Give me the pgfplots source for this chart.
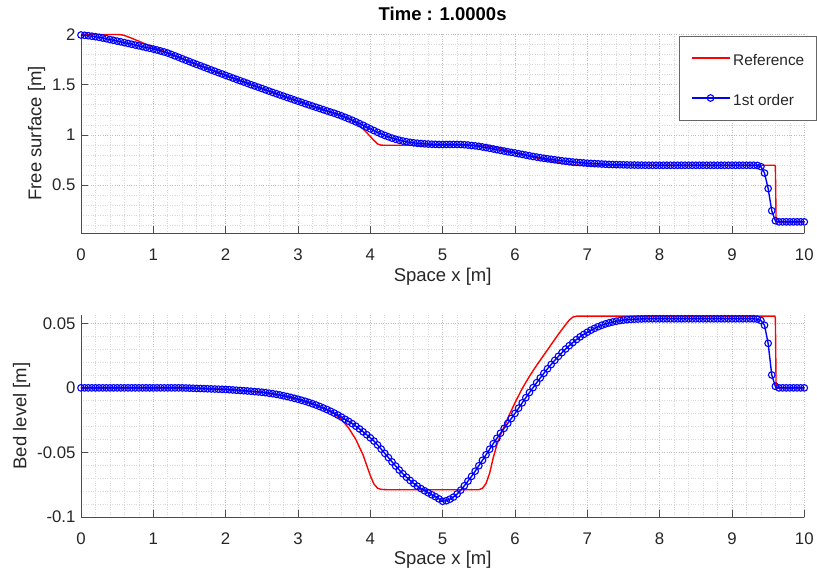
\documentclass[border=0pt]{standalone}
\usepackage{fontspec}
\setmainfont{Liberation Sans}
\usepackage{pgfplots}
\pgfplotsset{compat=1.18}
\definecolor{axgray}{RGB}{38,38,38}
\definecolor{mred}{RGB}{255,0,0}
\definecolor{mblue}{RGB}{0,0,255}

\pgfplotstableread{
x y
0.00 1.995
0.05 1.992
0.10 1.988
0.15 1.983
0.20 1.978
0.25 1.972
0.30 1.965
0.35 1.958
0.40 1.950
0.45 1.942
0.50 1.934
0.55 1.927
0.60 1.919
0.65 1.911
0.70 1.903
0.75 1.895
0.80 1.887
0.85 1.879
0.90 1.871
0.95 1.863
1.00 1.855
1.05 1.846
1.10 1.836
1.15 1.826
1.20 1.815
1.25 1.801
1.30 1.787
1.35 1.773
1.40 1.758
1.45 1.744
1.50 1.730
1.55 1.716
1.60 1.702
1.65 1.689
1.70 1.675
1.75 1.661
1.80 1.647
1.85 1.634
1.90 1.620
1.95 1.607
2.00 1.593
2.05 1.580
2.10 1.566
2.15 1.553
2.20 1.540
2.25 1.527
2.30 1.514
2.35 1.500
2.40 1.488
2.45 1.475
2.50 1.462
2.55 1.449
2.60 1.436
2.65 1.423
2.70 1.411
2.75 1.398
2.80 1.386
2.85 1.373
2.90 1.361
2.95 1.348
3.00 1.336
3.05 1.324
3.10 1.311
3.15 1.299
3.20 1.287
3.25 1.275
3.30 1.263
3.35 1.251
3.40 1.239
3.45 1.227
3.50 1.216
3.55 1.203
3.60 1.190
3.65 1.176
3.70 1.161
3.75 1.146
3.80 1.130
3.85 1.113
3.90 1.096
3.95 1.078
4.00 1.060
4.05 1.043
4.10 1.026
4.15 1.010
4.20 0.995
4.25 0.981
4.30 0.968
4.35 0.957
4.40 0.947
4.45 0.939
4.50 0.932
4.55 0.926
4.60 0.921
4.65 0.917
4.70 0.914
4.75 0.911
4.80 0.909
4.85 0.907
4.90 0.906
4.95 0.905
5.00 0.905
5.05 0.905
5.10 0.905
5.15 0.905
5.20 0.905
5.25 0.904
5.30 0.902
5.35 0.899
5.40 0.895
5.45 0.891
5.50 0.886
5.55 0.880
5.60 0.874
5.65 0.867
5.70 0.860
5.75 0.853
5.80 0.846
5.85 0.839
5.90 0.832
5.95 0.826
6.00 0.820
6.05 0.813
6.10 0.806
6.15 0.799
6.20 0.792
6.25 0.785
6.30 0.779
6.35 0.773
6.40 0.767
6.45 0.762
6.50 0.757
6.55 0.752
6.60 0.747
6.65 0.742
6.70 0.738
6.75 0.734
6.80 0.730
6.85 0.727
6.90 0.724
6.95 0.721
7.00 0.718
7.05 0.716
7.10 0.714
7.15 0.712
7.20 0.710
7.25 0.708
7.30 0.706
7.35 0.705
7.40 0.704
7.45 0.703
7.50 0.702
7.55 0.701
7.60 0.700
7.65 0.700
7.70 0.699
7.75 0.699
7.80 0.698
7.85 0.698
7.90 0.698
7.95 0.698
8.00 0.698
8.05 0.698
8.10 0.698
8.15 0.698
8.20 0.698
8.25 0.698
8.30 0.698
8.35 0.698
8.40 0.698
8.45 0.698
8.50 0.698
8.55 0.698
8.60 0.698
8.65 0.698
8.70 0.698
8.75 0.698
8.80 0.698
8.85 0.698
8.90 0.698
8.95 0.698
9.00 0.698
9.05 0.698
9.10 0.698
9.15 0.698
9.20 0.698
9.25 0.698
9.30 0.698
9.35 0.696
9.40 0.684
9.45 0.620
9.50 0.466
9.55 0.245
9.60 0.145
9.65 0.134
9.70 0.134
9.75 0.134
9.80 0.134
9.85 0.134
9.90 0.134
9.95 0.134
10.00 0.134
}\surfblue

\pgfplotstableread{
x y
0.00 2.000
0.50 2.000
0.55 1.998
0.60 1.991
0.70 1.963
0.80 1.933
1.00 1.873
1.25 1.801
1.50 1.730
1.75 1.661
2.00 1.593
2.25 1.527
2.50 1.462
2.75 1.398
3.00 1.336
3.25 1.275
3.50 1.216
3.60 1.192
3.70 1.163
3.80 1.120
3.90 1.060
4.00 0.985
4.05 0.945
4.10 0.910
4.15 0.898
4.20 0.897
5.50 0.897
5.60 0.893
5.70 0.880
5.80 0.862
6.00 0.825
6.20 0.789
6.40 0.755
6.60 0.724
6.70 0.710
6.80 0.700
6.90 0.698
9.59 0.698
9.60 0.690
9.61 0.140
9.62 0.134
10.00 0.134
}\surfred

\pgfplotstableread{
x y
0.00 0
0.05 0
0.10 0
0.15 0
0.20 0
0.25 0
0.30 0
0.35 0
0.40 0
0.45 0
0.50 0
0.55 0
0.60 0
0.65 0
0.70 0
0.75 0
0.80 0
0.85 0
0.90 0
0.95 0
1.00 0
1.05 0
1.10 0
1.15 0
1.20 0
1.25 0
1.30 0
1.35 0
1.40 0
1.45 -0.0001
1.50 -0.0002
1.55 -0.0003
1.60 -0.0004
1.65 -0.0005
1.70 -0.0006
1.75 -0.0007
1.80 -0.0008
1.85 -0.0009
1.90 -0.0010
1.95 -0.0011
2.00 -0.0012
2.05 -0.0014
2.10 -0.0016
2.15 -0.0018
2.20 -0.0020
2.25 -0.0022
2.30 -0.0024
2.35 -0.0026
2.40 -0.0029
2.45 -0.0031
2.50 -0.0034
2.55 -0.0037
2.60 -0.0041
2.65 -0.0045
2.70 -0.0050
2.75 -0.0055
2.80 -0.0061
2.85 -0.0067
2.90 -0.0074
2.95 -0.0081
3.00 -0.0088
3.05 -0.0096
3.10 -0.0104
3.15 -0.0113
3.20 -0.0123
3.25 -0.0133
3.30 -0.0144
3.35 -0.0156
3.40 -0.0168
3.45 -0.0181
3.50 -0.0195
3.55 -0.0210
3.60 -0.0226
3.65 -0.0243
3.70 -0.0259
3.75 -0.0277
3.80 -0.0297
3.85 -0.0318
3.90 -0.0340
3.95 -0.0363
4.00 -0.0387
4.05 -0.0412
4.10 -0.0442
4.15 -0.0474
4.20 -0.0507
4.25 -0.0540
4.30 -0.0573
4.35 -0.0605
4.40 -0.0636
4.45 -0.0665
4.50 -0.0692
4.55 -0.0717
4.60 -0.0740
4.65 -0.0761
4.70 -0.0780
4.75 -0.0797
4.80 -0.0813
4.85 -0.0828
4.90 -0.0843
4.95 -0.0860
5.00 -0.0878
5.05 -0.0874
5.10 -0.0862
5.15 -0.0846
5.20 -0.0822
5.25 -0.0792
5.30 -0.0758
5.35 -0.0722
5.40 -0.0685
5.45 -0.0645
5.50 -0.0603
5.55 -0.0561
5.60 -0.0518
5.65 -0.0475
5.70 -0.0432
5.75 -0.0390
5.80 -0.0351
5.85 -0.0313
5.90 -0.0275
5.95 -0.0237
6.00 -0.0198
6.05 -0.0157
6.10 -0.0116
6.15 -0.0076
6.20 -0.0036
6.25 0.0002
6.30 0.0040
6.35 0.0077
6.40 0.0113
6.45 0.0148
6.50 0.0181
6.55 0.0213
6.60 0.0244
6.65 0.0273
6.70 0.0301
6.75 0.0327
6.80 0.0351
6.85 0.0374
6.90 0.0395
6.95 0.0414
7.00 0.0431
7.05 0.0447
7.10 0.0461
7.15 0.0474
7.20 0.0485
7.25 0.0495
7.30 0.0503
7.35 0.0510
7.40 0.0516
7.45 0.0521
7.50 0.0525
7.55 0.0528
7.60 0.0530
7.65 0.0532
7.70 0.0533
7.75 0.0534
7.80 0.0535
7.85 0.0535
7.90 0.0535
7.95 0.0535
8.00 0.0535
8.05 0.0535
8.10 0.0535
8.15 0.0535
8.20 0.0535
8.25 0.0535
8.30 0.0535
8.35 0.0535
8.40 0.0535
8.45 0.0535
8.50 0.0535
8.55 0.0535
8.60 0.0535
8.65 0.0535
8.70 0.0535
8.75 0.0535
8.80 0.0535
8.85 0.0535
8.90 0.0535
8.95 0.0535
9.00 0.0535
9.05 0.0535
9.10 0.0535
9.15 0.0535
9.20 0.0535
9.25 0.0535
9.30 0.0535
9.35 0.0532
9.40 0.0522
9.45 0.0485
9.50 0.0345
9.55 0.0100
9.60 0.0012
9.65 0
9.70 0
9.75 0
9.80 0
9.85 0
9.90 0
9.95 0
10.00 0
}\bedblue

\pgfplotstableread{
x y
0.00 0
1.50 0
2.00 -0.0012
2.50 -0.0034
2.80 -0.0061
3.00 -0.0088
3.20 -0.0123
3.40 -0.0170
3.50 -0.0200
3.60 -0.0245
3.70 -0.0310
3.80 -0.0400
3.90 -0.0520
3.95 -0.0600
4.00 -0.0680
4.05 -0.0745
4.10 -0.0777
4.15 -0.0786
4.25 -0.0789
5.50 -0.0789
5.55 -0.0778
5.60 -0.0740
5.65 -0.0660
5.70 -0.0540
5.75 -0.0440
5.80 -0.0365
5.90 -0.0235
6.00 -0.0115
6.10 -0.0005
6.20 0.0090
6.30 0.0175
6.40 0.0255
6.50 0.0335
6.60 0.0415
6.70 0.0490
6.75 0.0525
6.80 0.0548
6.85 0.0555
9.59 0.0555
9.60 0.0545
9.61 0.0010
9.62 0
10.00 0
}\bedred

\pgfplotsset{
  mataxis/.style={
    scale only axis,
    width=723.3pt,
    xmin=0, xmax=10,
    axis lines*=left,
    tick align=inside,
    xtick={0,1,2,3,4,5,6,7,8,9,10},
    xticklabels={0,1,2,3,4,5,6,7,8,9,10},
    minor xtick={0,0.2,...,10},
    grid=both,
    major grid style={dotted, line width=0.6pt, color=black!25},
    minor grid style={dotted, line width=0.6pt, color=black!15},
    major tick length=7pt,
    minor tick length=0pt,
    axis line style={line width=0.6pt, color=black!70},
    every tick/.style={line width=0.6pt, color=black!70},
    tick label style={font=\fontsize{16.8}{20}\selectfont, text=axgray},
    label style={font=\fontsize{18.5}{22}\selectfont, text=axgray},
    xlabel={Space x [m]},
    xticklabel shift=12pt,
    yticklabel shift=2pt,
    legend image code/.code={\draw[mark repeat=2,mark phase=2,##1] plot coordinates {(0pt,0pt) (19pt,0pt) (38pt,0pt)};},
  },
}

\begin{document}
\begin{tikzpicture}
\path[use as bounding box] (0pt,0pt) rectangle (817pt,-576pt);

\begin{axis}[mataxis,
  at={(81pt,-233.3pt)}, anchor=south west,
  height=199.8pt,
  ymin=0.02, ymax=2.01,
  ytick={0.5,1,1.5,2},
  yticklabels={0.5,1,1.5,2},
  minor ytick={0.1,0.2,0.3,0.4,0.6,0.7,0.8,0.9,1.1,1.2,1.3,1.4,1.6,1.7,1.8,1.9},
  ylabel={Free surface [m]},
  title={Time : 1.0000s},
  title style={font=\fontsize{18.5}{22}\selectfont\bfseries, text=black, yshift=3pt},
  legend style={at={(1.017,0.989)}, anchor=north east, draw=black!60, line width=0.6pt, fill=white,
    inner xsep=12pt, inner ysep=12pt, row sep=20pt,
    font=\fontsize{15.4}{18}\selectfont, text=axgray,
    nodes={inner sep=0pt, text height=17pt, text depth=3pt},
    /tikz/every odd column/.append style={column sep=3pt}},
  legend cell align=left,
]
\addplot[color=mred, line width=1.4pt, mark=none] table[x=x,y=y] {\surfred};
\addlegendentry{Reference}
\addplot[color=mblue, line width=1.4pt, mark=o, mark size=3.3pt, mark options={line width=1.1pt, solid}] table[x=x,y=y] {\surfblue};
\addlegendentry{1st order}
\end{axis}

\begin{axis}[mataxis,
  at={(81pt,-517pt)}, anchor=south west,
  height=202.1pt,
  ymin=-0.1, ymax=0.0565,
  ytick={-0.1,-0.05,0,0.05},
  yticklabels={-0.1,-0.05,0,0.05},
  minor ytick={-0.09,-0.08,-0.07,-0.06,-0.04,-0.03,-0.02,-0.01,0.01,0.02,0.03,0.04},
  ylabel={Bed level [m]},
]
\addplot[color=mred, line width=1.4pt, mark=none] table[x=x,y=y] {\bedred};
\addplot[color=mblue, line width=1.4pt, mark=o, mark size=3.3pt, mark options={line width=1.1pt, solid}] table[x=x,y=y] {\bedblue};
\end{axis}
\end{tikzpicture}
\end{document}
